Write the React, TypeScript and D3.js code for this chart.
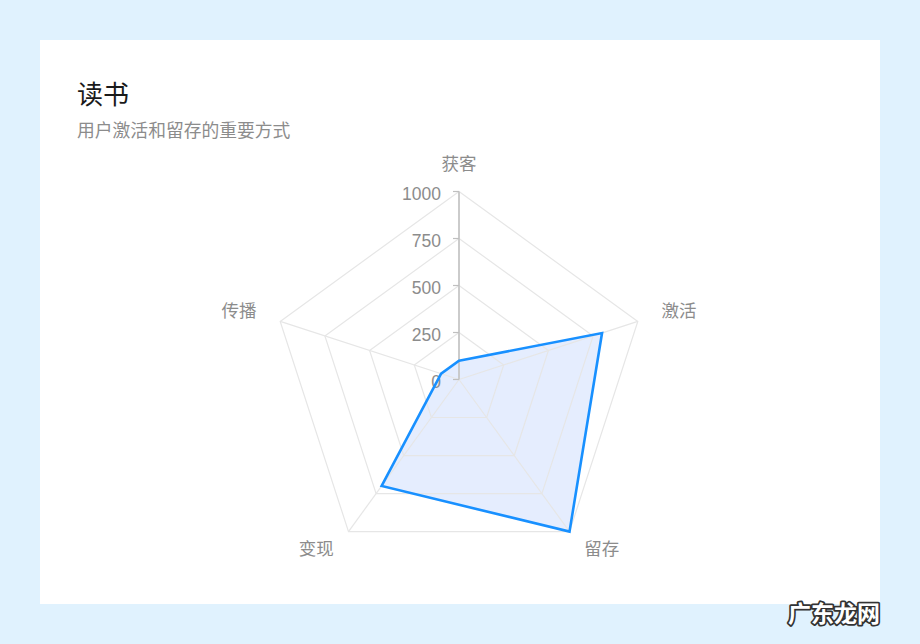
import React, { useEffect } from 'react';
import * as d3 from 'd3';

const categories = ['获客', '激活', '留存', '变现', '传播'];
const values = [100, 800, 1000, 700, 100];
const ticks = [0, 250, 500, 750, 1000];
const gridLevels = [250, 500, 750, 1000];

const W = 920;
const H = 644;
const cx = 459;
const cy = 379.5;
const radius = 188;
const font = "'Liberation Sans', Helvetica, Arial, 'Noto Sans CJK SC', sans-serif";

export default function App() {
  useEffect(() => {
    document.body.style.margin = '0';
  }, []);

  const rScale = d3.scaleLinear().domain([0, 1000]).range([0, radius]);
  const angle = d3.scaleLinear().domain([0, categories.length]).range([0, Math.PI * 2]);

  const px = (i: number, r: number) => r * Math.sin(angle(i));
  const py = (i: number, r: number) => -r * Math.cos(angle(i));

  const radar = d3
    .lineRadial<number>()
    .curve(d3.curveLinearClosed)
    .angle((_, i) => angle(i))
    .radius((d) => rScale(d));

  return (
    <svg width={W} height={H} style={{ display: 'block', fontFamily: font }}>
      <rect width={W} height={H} fill="#e0f2fe" />
      <rect x={40} y={40} width={840} height={564} fill="#ffffff" />

      <text x={77} y={104} fontSize={26} fill="#1a1a1a">读书</text>
      <text x={77} y={137} fontSize={17.8} fill="#8c8c8c">用户激活和留存的重要方式</text>

      <g transform={`translate(${cx},${cy})`}>
        {/* area fill */}
        <path d={radar(values) || ''} fill="#5B8FF9" fillOpacity={0.16} stroke="none" />

        {/* grid */}
        {gridLevels.map((lv) => (
          <path
            key={lv}
            d={radar(categories.map(() => lv)) || ''}
            fill="none"
            stroke="#e6e6e6"
            strokeWidth={1.2}
          />
        ))}
        {categories.map((c, i) => (
          <line
            key={c}
            x1={0}
            y1={0}
            x2={px(i, rScale(1000))}
            y2={py(i, rScale(1000))}
            stroke="#e6e6e6"
            strokeWidth={1.2}
          />
        ))}

        {/* radial axis */}
        <line x1={0} y1={0} x2={0} y2={-rScale(1000)} stroke="#bfbfbf" strokeWidth={1.5} />
        {ticks.map((t) => (
          <g key={t} transform={`translate(0,${-rScale(t)})`}>
            <line x1={-6} x2={0} stroke="#bfbfbf" strokeWidth={1.2} />
            <text x={-18} dy="0.5em" textAnchor="end" fontSize={17.5} fill="#8c8c8c">
              {t}
            </text>
          </g>
        ))}

        {/* series line */}
        <path
          d={radar(values) || ''}
          fill="none"
          stroke="#1890ff"
          strokeWidth={2.6}
          strokeLinejoin="miter"
        />

        {/* category labels */}
        {categories.map((c, i) => {
          const x = px(i, rScale(1000) + 25);
          const y = py(i, rScale(1000) + (i === 0 ? 28 : 25)) - (i === 0 ? 0 : 3);
          const anchor = Math.abs(x) < 1 ? 'middle' : x > 0 ? 'start' : 'end';
          return (
            <text
              key={c}
              x={x}
              y={y}
              dy="0.35em"
              textAnchor={anchor}
              fontSize={17.5}
              fill="#8c8c8c"
            >
              {c}
            </text>
          );
        })}
      </g>

      <text
        x={834}
        y={622}
        textAnchor="middle"
        fontSize={23}
        fontWeight="bold"
        fill="#ffffff"
        stroke="#333333"
        strokeWidth={3.5}
        strokeLinejoin="round"
        style={{ paintOrder: 'stroke' }}
      >
        广东龙网
      </text>
    </svg>
  );
}
